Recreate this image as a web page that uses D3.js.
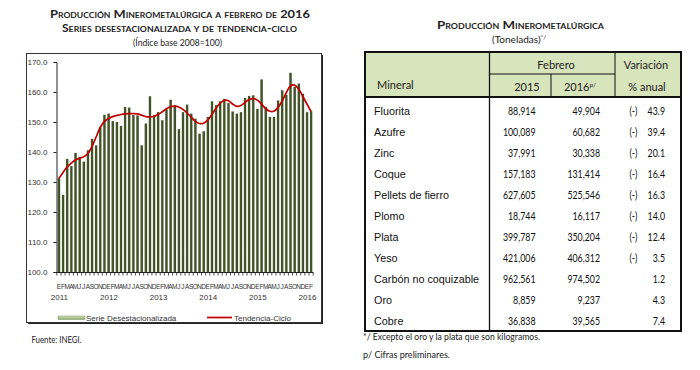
<!DOCTYPE html>
<html>
<head>
<meta charset="utf-8">
<script src="https://cdn.jsdelivr.net/npm/d3@7"></script>
<style>
  body { margin: 0; background: #fff; }
  svg { display: block; }
</style>
</head>
<body>
<svg id="chart" width="700" height="370"></svg>
<script>
// ---------------- data ----------------
var years = ["2011", "2012", "2013", "2014", "2015", "2016"];
var monthInitials = ["E", "F", "M", "A", "M", "J", "J", "A", "S", "O", "N", "D"];
var yTicks = [100, 110, 120, 130, 140, 150, 160, 170];

// serie desestacionalizada, ene 2011 - feb 2016
var serie = [
  131.3, 125.7, 137.7, 135.3, 139.7, 138.4, 136.8, 140.6, 144.4, 142.2, 148.3, 152.4,
  152.8, 150.3, 150.0, 148.7, 155.0, 154.8, 152.3, 152.2, 142.2, 149.5, 158.6, 152.2,
  153.3, 150.6, 154.2, 157.4, 155.6, 147.6, 153.3, 155.8, 152.8, 151.1, 146.1, 146.9,
  151.7, 156.9, 155.6, 156.9, 157.7, 156.3, 153.5, 152.8, 153.3, 158.0, 158.7, 158.9,
  154.4, 164.2, 155.0, 151.7, 151.7, 157.2, 160.6, 159.1, 166.4, 161.7, 162.8, 159.4,
  153.3, 153.6
];

// tendencia-ciclo
var tendencia = [
  131.2, 133.2, 135.0, 136.3, 137.3, 137.9, 138.4, 139.5, 141.8, 145.0, 148.2, 150.2,
  151.2, 151.8, 152.2, 152.5, 152.7, 152.8, 152.8, 152.7, 152.3, 151.8, 151.7, 151.9,
  152.5, 153.4, 154.4, 155.1, 155.3, 155.0, 154.2, 153.0, 151.6, 150.2, 149.5, 149.6,
  150.6, 152.5, 154.6, 156.3, 157.2, 157.1, 156.0, 155.2, 155.5, 156.5, 157.5, 157.8,
  157.3, 156.0, 154.5, 153.6, 153.6, 154.8, 157.0, 159.8, 162.0, 162.3, 161.0, 158.5,
  156.0, 153.5
];

var minerales = ["Fluorita", "Azufre", "Zinc", "Coque", "Pellets de fierro", "Plomo",
  "Plata", "Yeso", "Carbón no coquizable", "Oro", "Cobre"];
var feb2015 = [88914, 100089, 37991, 157183, 627605, 18744, 399787, 421006, 962561, 8859, 36838];
var feb2016 = [49904, 60682, 30338, 131414, 525546, 16117, 350204, 406312, 974502, 9237, 39565];
var variacion = [-43.9, -39.4, -20.1, -16.4, -16.3, -14.0, -12.4, -3.5, 1.2, 4.3, 7.4];

// months list, ene 2011 .. feb 2016
var months = [];
years.forEach(function(yr, k) {
  monthInitials.forEach(function(m, j) {
    if (k < years.length - 1 || j < 2) {
      months.push({year: yr, month: j, letter: m, value: serie[months.length], trend: tendencia[months.length]});
    }
  });
});

var calibri = "Lato, 'Open Sans', sans-serif";
var arial = "'Liberation Sans', Arial, sans-serif";
var narrow = "'Liberation Sans Narrow', 'Liberation Sans', Arial, sans-serif";

var svg = d3.select("#chart");

var defs = svg.append("defs");
var bg = defs.append("linearGradient").attr("id", "barGrad")
  .attr("x1", 0).attr("x2", 1).attr("y1", 0).attr("y2", 0);
bg.append("stop").attr("offset", "0%").attr("stop-color", "#d3dbc4");
bg.append("stop").attr("offset", "28%").attr("stop-color", "#48572f");
bg.append("stop").attr("offset", "78%").attr("stop-color", "#3f4e28");
bg.append("stop").attr("offset", "100%").attr("stop-color", "#a9b595");

var lg = defs.append("linearGradient").attr("id", "legGrad")
  .attr("x1", 0).attr("x2", 0).attr("y1", 0).attr("y2", 1);
lg.append("stop").attr("offset", "0%").attr("stop-color", "#d4e2bf");
lg.append("stop").attr("offset", "100%").attr("stop-color", "#8eaa6c");

//--------------------------- LEFT: CHART ---------------------------//

svg.append("text")
  .attr("x", 180).attr("y", 18)
  .attr("text-anchor", "middle")
  .attr("font-family", calibri).attr("font-weight", "bold").attr("font-size", "12px")
  .style("font-variant", "small-caps")
  .attr("fill", "#222")
  .attr("textLength", 260).attr("lengthAdjust", "spacingAndGlyphs")
  .text("Producción Minerometalúrgica a febrero de 2016");

svg.append("text")
  .attr("x", 179.5).attr("y", 32)
  .attr("text-anchor", "middle")
  .attr("font-family", calibri).attr("font-weight", "bold").attr("font-size", "11px")
  .style("font-variant", "small-caps")
  .attr("fill", "#222")
  .attr("textLength", 235).attr("lengthAdjust", "spacingAndGlyphs")
  .text("Series desestacionalizada y de tendencia-ciclo");

svg.append("text")
  .attr("x", 177.5).attr("y", 46)
  .attr("text-anchor", "middle")
  .attr("font-family", calibri).attr("font-size", "10px")
  .attr("fill", "#222")
  .attr("textLength", 89).attr("lengthAdjust", "spacingAndGlyphs")
  .text("(Índice base 2008=100)");

// frame with shadow
svg.append("rect")
  .attr("x", 28).attr("y", 55).attr("width", 295).attr("height", 269)
  .attr("fill", "#222");
svg.append("rect")
  .attr("x", 26.5).attr("y", 53.5).attr("width", 295).attr("height", 269)
  .attr("fill", "#fff").attr("stroke", "#333").attr("stroke-width", 1);

var x = d3.scaleBand()
  .domain(d3.range(months.length))
  .range([57, 313])
  .paddingInner(0.28)
  .paddingOuter(0.1);

var y = d3.scaleLinear()
  .domain([100, 170])
  .range([272, 62]);

// bars
svg.append("g").selectAll("rect")
  .data(months)
  .enter()
  .append("rect")
  .attr("x", function(d, i) { return x(i); })
  .attr("y", function(d) { return y(d.value); })
  .attr("width", x.bandwidth())
  .attr("height", function(d) { return y(100) - y(d.value); })
  .attr("fill", "url(#barGrad)");

// y axis
var yAxis = svg.append("g")
  .attr("transform", "translate(56.5,0)")
  .call(d3.axisLeft(y).tickValues(yTicks).tickSize(3).tickPadding(6).tickFormat(d3.format(".1f")));
yAxis.select(".domain").attr("stroke", "#222");
yAxis.selectAll(".tick line").attr("stroke", "#222");
yAxis.selectAll("text").attr("font-family", arial).attr("font-size", "8px").attr("fill", "#333");

// x axis: baseline, comb ticks, month initials
svg.append("line")
  .attr("x1", 56.5).attr("x2", 313)
  .attr("y1", y(100) + 0.5).attr("y2", y(100) + 0.5)
  .attr("stroke", "#222");

var gap = x.step() - x.bandwidth();
svg.append("g").selectAll("line")
  .data(d3.range(months.length + 1))
  .enter()
  .append("line")
  .attr("x1", function(i) { return i < months.length ? x(i) - gap / 2 : x(i - 1) + x.bandwidth() + gap / 2; })
  .attr("x2", function(i) { return i < months.length ? x(i) - gap / 2 : x(i - 1) + x.bandwidth() + gap / 2; })
  .attr("y1", y(100)).attr("y2", y(100) + 3.5)
  .attr("stroke", "#222").attr("stroke-width", 0.8);

svg.append("g").selectAll("text")
  .data(months)
  .enter()
  .append("text")
  .attr("x", function(d, i) { return x(i) + x.bandwidth() / 2; })
  .attr("y", 289)
  .attr("text-anchor", "middle")
  .attr("font-family", narrow).attr("font-size", "6.5px").attr("fill", "#333")
  .text(function(d) { return d.letter; });

svg.append("g").selectAll("text")
  .data(months.filter(function(d) { return d.month === 0; }))
  .enter()
  .append("text")
  .attr("x", function(d) { return x(months.indexOf(d)) + x.bandwidth() / 2 + 0.5; })
  .attr("y", 299.5)
  .attr("text-anchor", "middle")
  .attr("font-family", arial).attr("font-size", "8px").attr("fill", "#333")
  .text(function(d) { return d.year; });

// trend line
var line = d3.line()
  .x(function(d, i) { return x(i) + x.bandwidth() / 2; })
  .y(function(d) { return y(d.trend); })
  .curve(d3.curveCatmullRom);

svg.append("path")
  .datum(months)
  .attr("d", line)
  .attr("fill", "none")
  .attr("stroke", "#c00000")
  .attr("stroke-width", 1.7);

// legend
svg.append("rect")
  .attr("x", 58).attr("y", 316).attr("width", 27).attr("height", 3.5)
  .attr("fill", "url(#legGrad)").attr("stroke", "#7d9760").attr("stroke-width", 0.5);
svg.append("text")
  .attr("x", 86).attr("y", 320.5)
  .attr("font-family", arial).attr("font-size", "8px").attr("fill", "#333")
  .text("Serie Desestacionalizada");
svg.append("line")
  .attr("x1", 207).attr("x2", 232).attr("y1", 317.5).attr("y2", 317.5)
  .attr("stroke", "#c00000").attr("stroke-width", 1.7);
svg.append("text")
  .attr("x", 234).attr("y", 320.5)
  .attr("font-family", arial).attr("font-size", "8px").attr("fill", "#333")
  .text("Tendencia-Ciclo");

svg.append("text")
  .attr("x", 31.5).attr("y", 343)
  .attr("font-family", calibri).attr("font-size", "9px").attr("fill", "#222")
  .attr("textLength", 50).attr("lengthAdjust", "spacingAndGlyphs")
  .text("Fuente: INEGI.");

//--------------------------- RIGHT: TABLE ---------------------------//

var tx0 = 365, tx1 = 681, tTop = 52, tMid = 74, tHead = 97, tBot = 331;
var col1 = 489.5, col2 = 551, col3 = 615;

svg.append("text")
  .attr("x", 520.5).attr("y", 29)
  .attr("text-anchor", "middle")
  .attr("font-family", calibri).attr("font-weight", "bold").attr("font-size", "12px")
  .style("font-variant", "small-caps")
  .attr("fill", "#222")
  .attr("textLength", 167).attr("lengthAdjust", "spacingAndGlyphs")
  .text("Producción Minerometalúrgica");

var ton = svg.append("text")
  .attr("x", 492).attr("y", 43)
  .attr("font-family", calibri).attr("font-size", "10px")
  .attr("fill", "#222");
ton.append("tspan").text("(Toneladas)");
ton.append("tspan").attr("dy", -4).attr("font-size", "6.5px").text("*/");

svg.append("rect")
  .attr("x", tx0).attr("y", tTop).attr("width", tx1 - tx0).attr("height", tHead - tTop)
  .attr("fill", "#d8e4bc");

var lines = [
  [col1, tTop, col1, tBot, 1.3],
  [col3, tTop, col3, tHead, 1],
  [col2, tMid, col2, tHead, 1],
  [col1, tMid, col3, tMid, 1],
  [tx0, tHead, tx1, tHead, 2]
];
svg.append("g").selectAll("line")
  .data(lines)
  .enter()
  .append("line")
  .attr("x1", function(d) { return d[0]; })
  .attr("y1", function(d) { return d[1]; })
  .attr("x2", function(d) { return d[2]; })
  .attr("y2", function(d) { return d[3]; })
  .attr("stroke", "#111")
  .attr("stroke-width", function(d) { return d[4]; });

svg.append("rect")
  .attr("x", tx0).attr("y", tTop).attr("width", tx1 - tx0).attr("height", tBot - tTop)
  .attr("fill", "none").attr("stroke", "#111").attr("stroke-width", 2);

// header text
var head = svg.append("g")
  .attr("font-family", calibri).attr("font-size", "11px").attr("fill", "#222");
head.append("text").attr("x", 377).attr("y", 89).text("Mineral");
head.append("text").attr("x", 556).attr("y", 68.5).attr("text-anchor", "middle").text("Febrero");
head.append("text").attr("x", 527).attr("y", 91).attr("text-anchor", "middle").text("2015");
var h16 = head.append("text").attr("x", 580).attr("y", 91).attr("text-anchor", "middle");
h16.append("tspan").text("2016");
h16.append("tspan").attr("dy", -4).attr("font-size", "6.5px").text("p/");
head.append("text").attr("x", 646).attr("y", 68.5).attr("text-anchor", "middle").text("Variación");
head.append("text").attr("x", 647).attr("y", 91).attr("text-anchor", "middle").text("% anual");

// body rows
var rowY = d3.scaleBand()
  .domain(minerales)
  .range([101, 332]);

var fmt = d3.format(",");
var rows = svg.append("g").selectAll("g")
  .data(minerales)
  .enter()
  .append("g")
  .attr("transform", function(d) { return "translate(0," + (rowY(d) + rowY.bandwidth() / 2 + 3.8) + ")"; });

rows.append("text")
  .attr("x", 374)
  .attr("font-family", arial).attr("font-size", "10.8px").attr("fill", "#111")
  .text(function(d) { return d; });

function numText(sel, xr, fn) {
  sel.append("text")
    .attr("transform", "translate(" + xr + ",0) scale(0.8,1)")
    .attr("text-anchor", "end")
    .attr("font-family", calibri).attr("font-size", "11px").attr("fill", "#111")
    .text(fn);
}
numText(rows, 535.5, function(d, i) { return fmt(feb2015[i]); });
numText(rows, 600, function(d, i) { return fmt(feb2016[i]); });
numText(rows, 665, function(d, i) { return d3.format(".1f")(Math.abs(variacion[i])); });

rows.filter(function(d, i) { return variacion[i] < 0; })
  .append("text")
  .attr("transform", "translate(629.5,0) scale(0.8,1)")
  .attr("font-family", calibri).attr("font-size", "11px").attr("fill", "#111")
  .text("(-)");

// footnotes
svg.append("text")
  .attr("x", 363).attr("y", 340)
  .attr("font-family", calibri).attr("font-size", "9px").attr("fill", "#222")
  .attr("textLength", 177).attr("lengthAdjust", "spacingAndGlyphs")
  .text("*/ Excepto el oro y la plata que son kilogramos.");
svg.append("text")
  .attr("x", 363).attr("y", 358)
  .attr("font-family", calibri).attr("font-size", "9px").attr("fill", "#222")
  .attr("textLength", 87).attr("lengthAdjust", "spacingAndGlyphs")
  .text("p/ Cifras preliminares.");
</script>
</body>
</html>
